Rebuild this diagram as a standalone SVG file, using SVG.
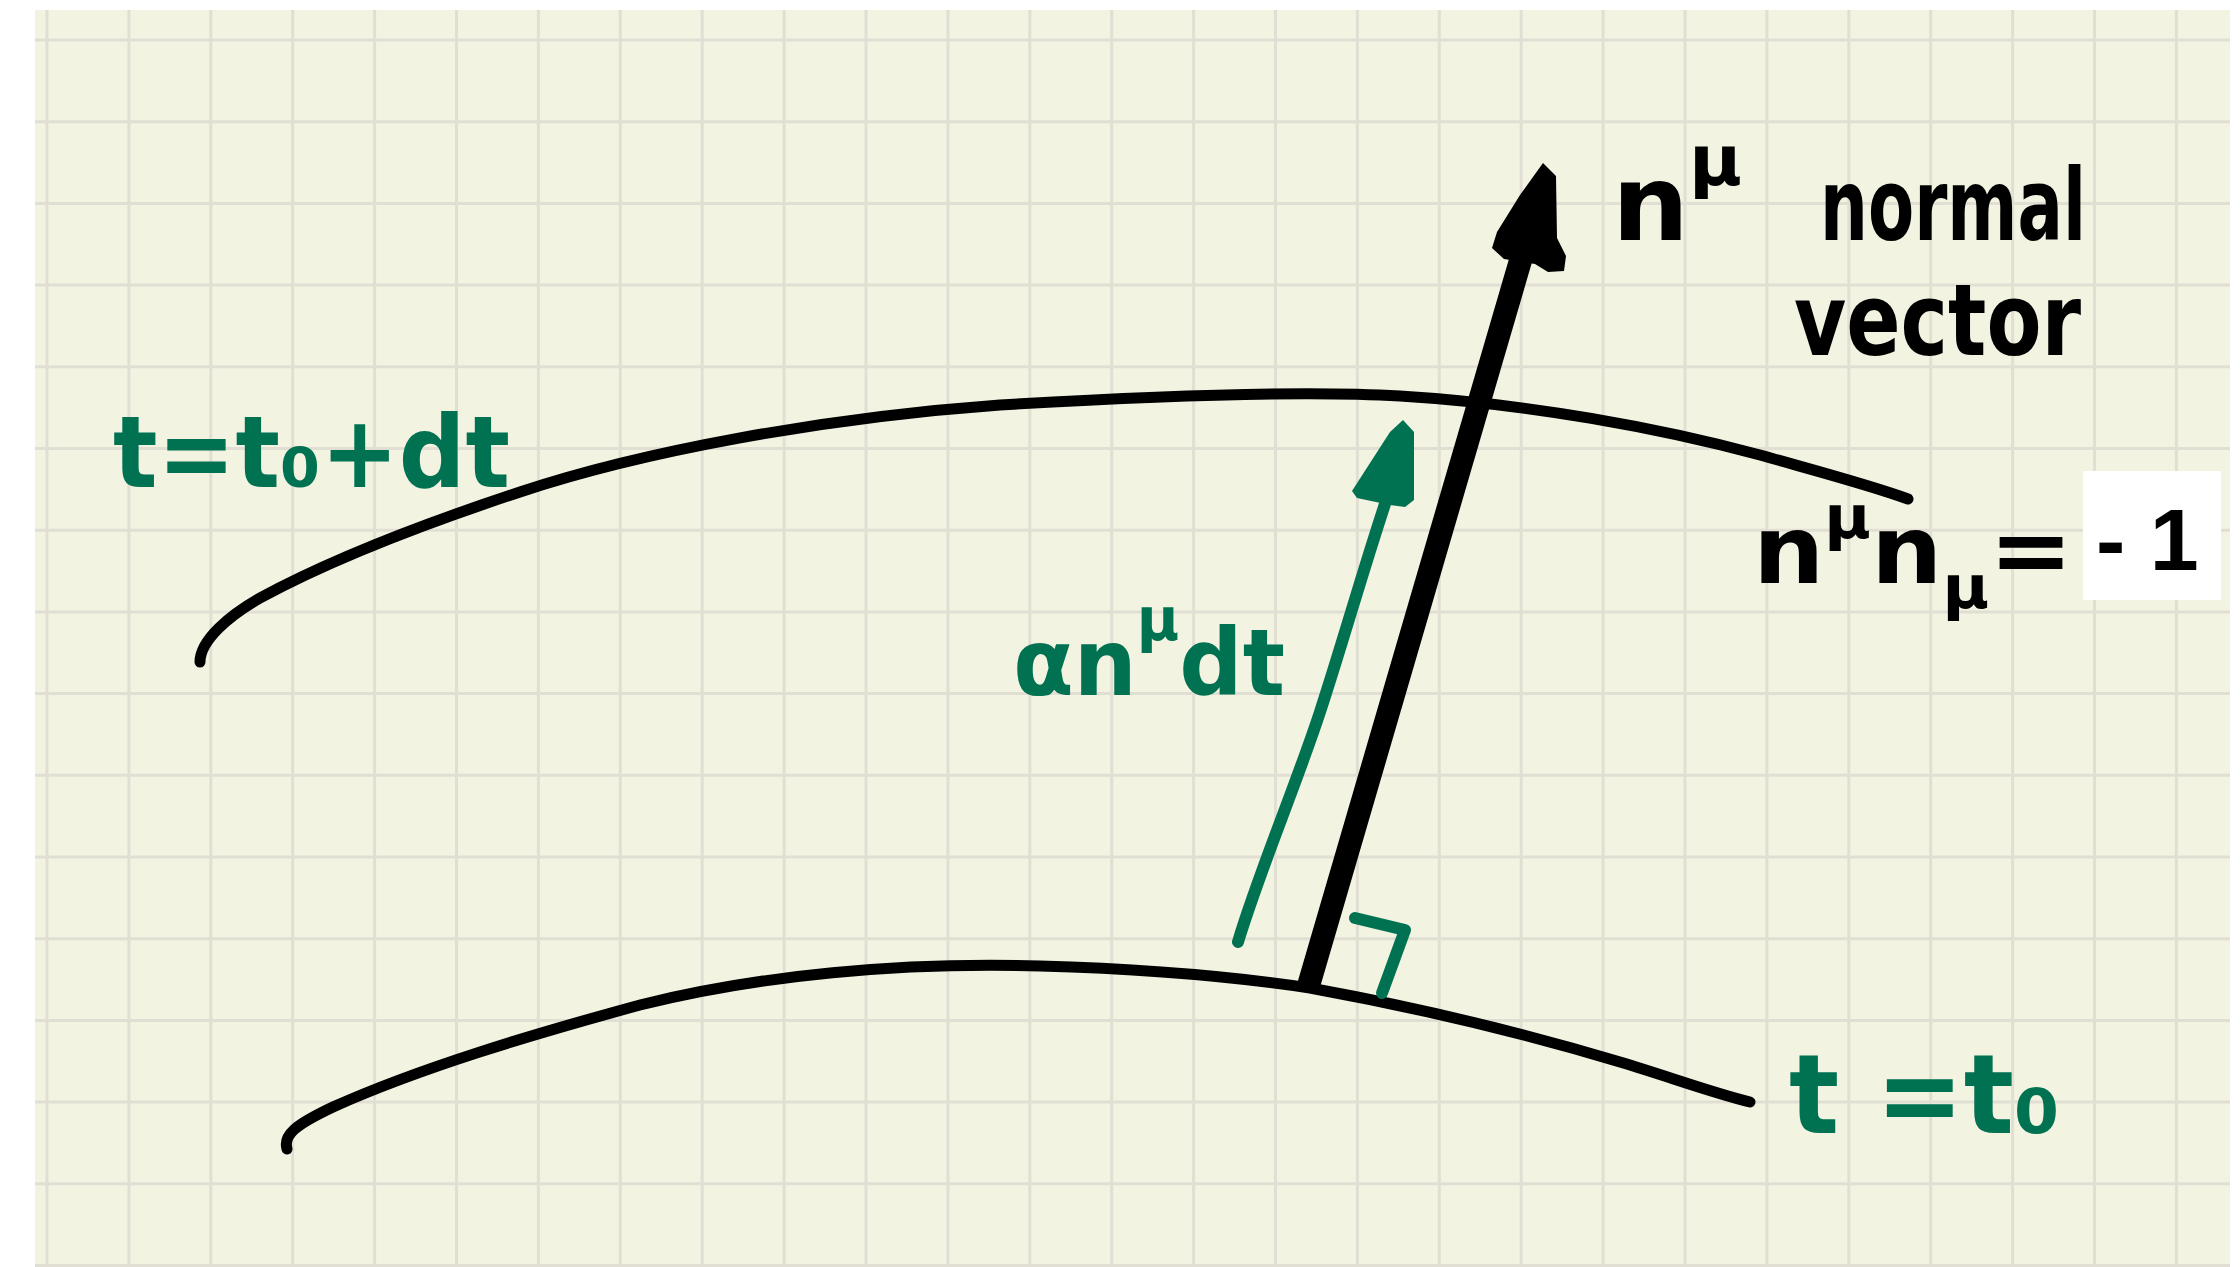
<svg xmlns="http://www.w3.org/2000/svg" width="2240" height="1267" viewBox="0 0 2240 1267">
<style>
.grid{fill:none;stroke:#e1dfd3;stroke-width:3}
.ink{fill:none;stroke:#000;stroke-width:11;stroke-linecap:round;stroke-linejoin:round}
.gink{fill:none;stroke:#007252;stroke-width:12;stroke-linecap:round;stroke-linejoin:round}
.hand{font-family:"DejaVu Sans","Liberation Sans",sans-serif;font-weight:bold}
.g{fill:#007252}
.k{fill:#000}
</style>
<rect x="0" y="0" width="2240" height="1267" fill="#ffffff"/>
<g id="paper">
<rect x="35" y="10" width="2195" height="1257" fill="#f3f3e2"/>
<path class="grid" d="M47,10V1267M128.9,10V1267M210.8,10V1267M292.7,10V1267M374.6,10V1267M456.5,10V1267M538.4,10V1267M620.3,10V1267M702.2,10V1267M784.1,10V1267M866,10V1267M947.9,10V1267M1029.8,10V1267M1111.7,10V1267M1193.6,10V1267M1275.5,10V1267M1357.4,10V1267M1439.3,10V1267M1521.2,10V1267M1603.1,10V1267M1685,10V1267M1766.9,10V1267M1848.8,10V1267M1930.7,10V1267M2012.6,10V1267M2094.5,10V1267M2176.4,10V1267M35,40H2230M35,121.7H2230M35,203.4H2230M35,285.1H2230M35,366.8H2230M35,448.5H2230M35,530.2H2230M35,611.9H2230M35,693.6H2230M35,775.3H2230M35,857H2230M35,938.7H2230M35,1020.4H2230M35,1102.1H2230M35,1183.8H2230M35,1265.5H2230"/>
</g>
<g id="connectors">
<path id="surface-upper" class="ink" d="M200,662 C200,640 230,615 260,598 C330,560 420,525 520,492 C640,452 820,418 1000,405 C1150,396 1300,390 1400,396 C1530,404 1660,428 1760,455 C1820,472 1870,485 1908,499"/>
<path id="surface-lower" class="ink" d="M287,1149 C283,1135 295,1125 333,1107 C420,1068 530,1035 640,1005 C760,975 900,962 1040,966 C1150,969 1230,976 1310,988 C1420,1008 1530,1035 1620,1062 C1670,1077 1710,1092 1750,1102"/>
<g id="normal-arrow">
<path d="M1309,984 L1530,228" fill="none" stroke="#000" stroke-width="23" stroke-linecap="butt"/>
<path class="k" d="M1543,163 L1556,176 L1557,238 L1566,256 L1564,271 L1548,272 L1535,264 L1504,259 L1492,248 L1497,232 L1520,195 Z"/>
</g>
<g id="lapse-arrow">
<path class="gink" d="M1238,942 C1258,875 1296,785 1320,712 C1342,645 1366,560 1388,495"/>
<path class="g" d="M1403,420 L1414,432 L1414,500 L1405,507 L1390,505 L1357,498 L1352,491 L1370,463 L1390,432 Z"/>
</g>
<path id="right-angle" class="gink" stroke-linejoin="miter" stroke-linecap="round" d="M1355,918 L1405,930 L1382,993"/>
</g>
<g id="label-upper">
<text class="hand g" x="113" y="487" font-size="100" textLength="397" lengthAdjust="spacingAndGlyphs">t=t₀+dt</text>
</g>
<g id="label-lower">
<text class="hand g" x="1789" y="1133" font-size="110" textLength="271" lengthAdjust="spacingAndGlyphs">t =t₀</text>
</g>
<g id="label-lapse">
<text class="hand g" x="1013" y="695" font-size="92" textLength="272" lengthAdjust="spacingAndGlyphs">αn<tspan font-size="60" dy="-55">μ</tspan><tspan dy="55">dt</tspan></text>
</g>
<g id="label-n">
<text class="hand k" x="1612" y="240" font-size="105" textLength="130" lengthAdjust="spacingAndGlyphs">n<tspan font-size="70" dy="-55">μ</tspan></text>
</g>
<g id="label-normal-vector">
<text class="hand k" x="1820" y="240" font-size="100" textLength="266" lengthAdjust="spacingAndGlyphs">normal</text>
<text class="hand k" x="1794" y="355" font-size="100" textLength="287" lengthAdjust="spacingAndGlyphs">vector</text>
</g>
<g id="label-norm">
<text class="hand k" x="1753" y="583" font-size="95" textLength="320" lengthAdjust="spacingAndGlyphs">n<tspan font-size="60" dy="-45">μ</tspan><tspan dy="45">n</tspan><tspan font-size="60" dy="25">μ</tspan><tspan dy="-25">=</tspan></text>
<rect x="2083" y="471" width="138" height="129" fill="#ffffff"/>
<text x="2096" y="570" font-family="'Liberation Sans',Arial,sans-serif" font-weight="bold" font-size="88" fill="#000">- 1</text>
</g>
</svg>
